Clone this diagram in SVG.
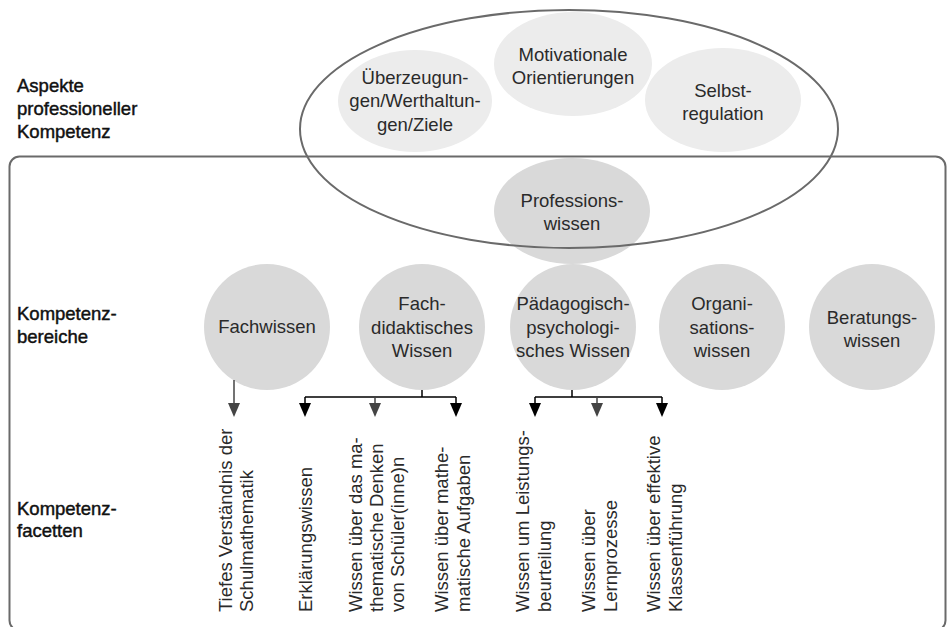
<svg xmlns="http://www.w3.org/2000/svg" width="948" height="627" viewBox="0 0 948 627">
<style>
.t{font-family:"Liberation Sans",Arial,sans-serif;font-size:18.5px;fill:#2a2a2a;text-anchor:middle}
.f{font-family:"Liberation Sans",Arial,sans-serif;font-size:18.5px;fill:#2a2a2a}
.lab{font-family:"Liberation Sans",Arial,sans-serif;font-size:18.5px;fill:#111;stroke:#111;stroke-width:0.45}
.light{fill:#ececec}
.dark{fill:#d9d9d9}
.line{stroke:#000;stroke-width:1.5;fill:none}
.gline{stroke:#444;stroke-width:1.5;fill:none}
</style>
<rect x="9.5" y="156.5" width="936" height="474" rx="10" fill="none" stroke="#6a6a6a" stroke-width="2"/>
<g id="labels">
<text class="lab" x="17" y="92">Aspekte</text>
<text class="lab" x="17" y="115">professioneller</text>
<text class="lab" x="17" y="138">Kompetenz</text>
<text class="lab" x="17" y="320">Kompetenz-</text>
<text class="lab" x="17" y="343">bereiche</text>
<text class="lab" x="17" y="515">Kompetenz-</text>
<text class="lab" x="17" y="537">facetten</text>
</g>
<g id="ueberzeugungen"><ellipse class="light" cx="415" cy="101" rx="77" ry="51"/>
<text class="t" x="415" y="84">Überzeugun-</text><text class="t" x="415" y="107">gen/Werthaltun-</text><text class="t" x="415" y="131">gen/Ziele</text></g>
<g id="motivation"><ellipse class="light" cx="573" cy="64" rx="79" ry="52"/>
<text class="t" x="573" y="61">Motivationale</text><text class="t" x="573" y="84">Orientierungen</text></g>
<g id="selbstregulation"><ellipse class="light" cx="723" cy="100" rx="78" ry="52"/>
<text class="t" x="723" y="97">Selbst-</text><text class="t" x="723" y="120">regulation</text></g>
<g id="professionswissen"><ellipse class="dark" cx="572" cy="211" rx="78" ry="53"/>
<text class="t" x="572" y="207">Professions-</text><text class="t" x="572" y="230">wissen</text></g>
<ellipse id="aspekte" cx="569" cy="129" rx="269" ry="119" fill="none" stroke="#6a6a6a" stroke-width="2"/>
<g id="fachwissen"><circle class="dark" cx="267" cy="327" r="63"/><text class="t" x="267" y="333">Fachwissen</text></g>
<g id="fachdidaktik"><circle class="dark" cx="422" cy="327" r="63"/>
<text class="t" x="422" y="310">Fach-</text><text class="t" x="422" y="334">didaktisches</text><text class="t" x="422" y="357">Wissen</text></g>
<g id="paedagogik"><circle class="dark" cx="573" cy="327" r="63"/>
<text class="t" x="573" y="310">Pädagogisch-</text><text class="t" x="573" y="334">psychologi-</text><text class="t" x="573" y="357">sches Wissen</text></g>
<g id="organisation"><circle class="dark" cx="722" cy="327" r="63"/>
<text class="t" x="722" y="310">Organi-</text><text class="t" x="722" y="334">sations-</text><text class="t" x="722" y="357">wissen</text></g>
<g id="beratung"><circle class="dark" cx="872" cy="327" r="63"/>
<text class="t" x="872" y="324">Beratungs-</text><text class="t" x="872" y="347">wissen</text></g>
<g id="connectors">
<path class="gline" d="M234,380 V404"/>
<path d="M228,403 L240,403 L234,417 Z" fill="#444"/>
<path class="line" d="M422,390 V397 M305,397 H456 M305,397 V404 M456,397 V404"/>
<path class="gline" d="M375,397 V404"/>
<path d="M299,403 L311,403 L305,417 Z" fill="#000"/>
<path d="M369,403 L381,403 L375,417 Z" fill="#444"/>
<path d="M450,403 L462,403 L456,417 Z" fill="#000"/>
<path class="line" d="M572,390 V397 M535,397 H662 M535,397 V404 M662,397 V404"/>
<path class="gline" d="M597,397 V404"/>
<path d="M529,403 L541,403 L535,417 Z" fill="#000"/>
<path d="M591,403 L603,403 L597,417 Z" fill="#444"/>
<path d="M656,403 L668,403 L662,417 Z" fill="#000"/>
</g>
<g id="facetten">
<text class="f" transform="translate(232,612) rotate(-90)">Tiefes Verständnis der</text>
<text class="f" transform="translate(253,612) rotate(-90)">Schulmathematik</text>
<text class="f" transform="translate(312,612) rotate(-90)">Erklärungswissen</text>
<text class="f" transform="translate(362,612) rotate(-90)">Wissen über das ma-</text>
<text class="f" transform="translate(383,612) rotate(-90)">thematische Denken</text>
<text class="f" transform="translate(404,612) rotate(-90)">von Schüler(inne)n</text>
<text class="f" transform="translate(448,612) rotate(-90)">Wissen über mathe-</text>
<text class="f" transform="translate(470,612) rotate(-90)">matische Aufgaben</text>
<text class="f" transform="translate(529,612) rotate(-90)">Wissen um Leistungs-</text>
<text class="f" transform="translate(551,612) rotate(-90)">beurteilung</text>
<text class="f" transform="translate(595,612) rotate(-90)">Wissen über</text>
<text class="f" transform="translate(617,612) rotate(-90)">Lernprozesse</text>
<text class="f" transform="translate(660,612) rotate(-90)">Wissen über effektive</text>
<text class="f" transform="translate(682,612) rotate(-90)">Klassenführung</text>
</g>
</svg>
